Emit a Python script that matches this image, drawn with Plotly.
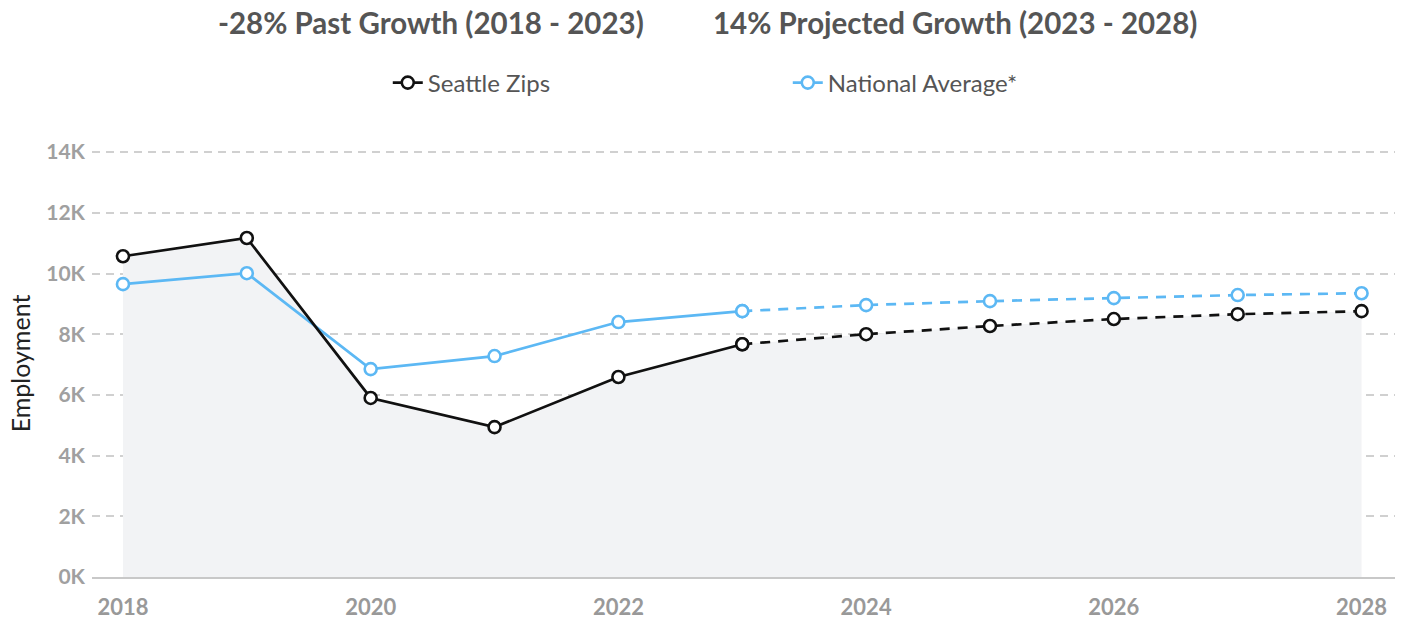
import plotly.graph_objects as go

# Employment series, historical (2018-2023) and projected (2023-2028)
years = [2018, 2019, 2020, 2021, 2022, 2023, 2024, 2025, 2026, 2027, 2028]
seattle = [10570, 11170, 5900, 4940, 6590, 7670, 8000, 8270, 8500, 8660, 8760]
national = [9650, 10010, 6850, 7280, 8400, 8760, 8960, 9090, 9190, 9290, 9350]
split_year = 2023

y_tick_vals = [0, 2000, 4000, 6000, 8000, 10000, 12000, 14000]
y_tick_text = ["0K", "2K", "4K", "6K", "8K", "10K", "12K", "14K"]
x_tick_vals = [2018, 2020, 2022, 2024, 2026, 2028]

headline_past = "-28% Past Growth (2018 - 2023)"
headline_proj = "14% Projected Growth (2023 - 2028)"

BLACK = "#111111"
BLUE = "#5cb8f4"
FONT = "Lato"

k = years.index(split_year)
hist_x, proj_x = years[: k + 1], years[k:]

fig = go.Figure()

# shaded area under the local series
fig.add_trace(go.Scatter(
    x=years, y=seattle, mode="none", fill="tozeroy",
    fillcolor="#f2f3f5", showlegend=False, hoverinfo="skip",
))

marker_black = dict(size=12, color="white", line=dict(color=BLACK, width=2.6))
marker_blue = dict(size=12, color="white", line=dict(color=BLUE, width=2.6))

# projected parts (dashed)
fig.add_trace(go.Scatter(
    x=proj_x, y=national[k:], mode="lines+markers", showlegend=False,
    line=dict(color=BLUE, width=2.7, dash="10px,8px"), marker=marker_blue,
))
fig.add_trace(go.Scatter(
    x=proj_x, y=seattle[k:], mode="lines+markers", showlegend=False,
    line=dict(color=BLACK, width=2.7, dash="10px,8px"), marker=marker_black,
))

# historical parts (solid)
fig.add_trace(go.Scatter(
    x=hist_x, y=national[: k + 1], mode="lines+markers", name="National Average*",
    line=dict(color=BLUE, width=2.7), marker=marker_blue,
))
fig.add_trace(go.Scatter(
    x=hist_x, y=seattle[: k + 1], mode="lines+markers", name="Seattle Zips",
    line=dict(color=BLACK, width=2.7), marker=marker_black,
))

plot_top, plot_h = 150, 427
title_y = 1 + (plot_top - 22) / plot_h

fig.update_layout(
    width=1402, height=621,
    margin=dict(l=92, r=7, t=plot_top, b=44),
    paper_bgcolor="white", plot_bgcolor="white",
    font=dict(family=FONT, color="#555555"),
    showlegend=True,
    legend=dict(
        orientation="h", traceorder="reversed",
        x=0.227, xanchor="left", y=1 + (plot_top - 83) / plot_h, yanchor="middle",
        entrywidth=355, entrywidthmode="pixels",
        font=dict(family=FONT, size=24, color="#555555"),
        itemclick=False, itemdoubleclick=False,
    ),
    annotations=[
        dict(text=f"<b>{headline_past}</b>", xref="paper", yref="paper",
             x=(431 - 92) / 1303, y=title_y, showarrow=False,
             xanchor="center", yanchor="middle",
             font=dict(family=FONT, size=29.5, color="#555555")),
        dict(text=f"<b>{headline_proj}</b>", xref="paper", yref="paper",
             x=(955 - 92) / 1303, y=title_y, showarrow=False,
             xanchor="center", yanchor="middle",
             font=dict(family=FONT, size=29.5, color="#555555")),
    ],
    xaxis=dict(
        range=[2017.75, 2028.27], tickvals=x_tick_vals,
        showgrid=False, zeroline=False, automargin=False,
        showline=True, linecolor="#c8c8c8", linewidth=1.5,
        tickfont=dict(family=FONT, size=22, color="#999999", weight="bold"),
        ticks="", ticklabelstandoff=10,
    ),
    yaxis=dict(
        range=[0, 14070], tickvals=y_tick_vals, ticktext=y_tick_text,
        showgrid=True, gridcolor="#d0d0d0", gridwidth=1.5, griddash="8px,6px",
        zeroline=False, automargin=False,
        tickfont=dict(family=FONT, size=21, color="#a0a0a0", weight="bold"),
        ticks="", ticklabelstandoff=6,
        title=dict(text="Employment", standoff=8,
                   font=dict(family=FONT, size=25, color="#222222")),
    ),
)

fig.write_html("out.html")
